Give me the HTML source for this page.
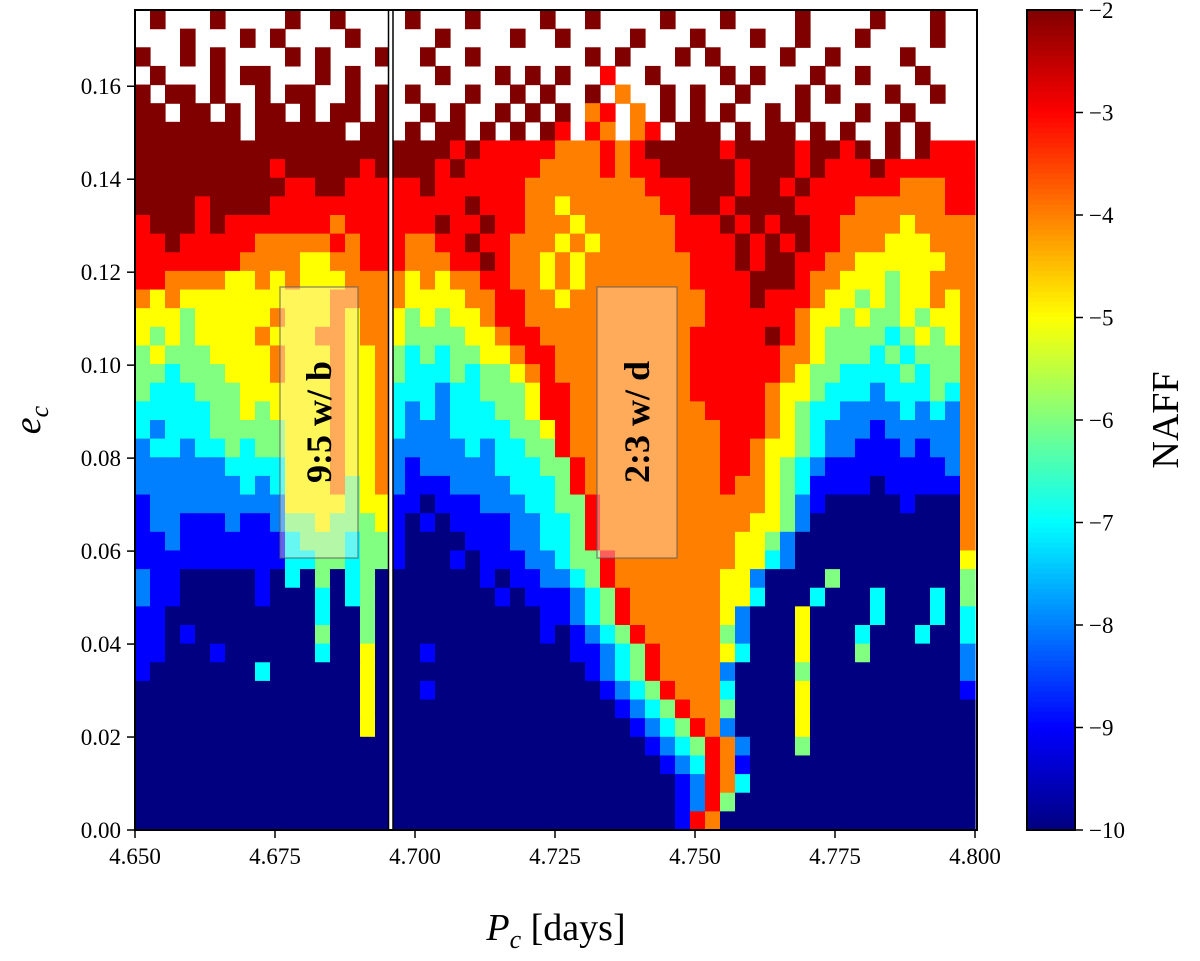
<!DOCTYPE html>
<html><head><meta charset="utf-8"><style>
html,body{margin:0;padding:0;background:#fff;}
svg text{font-family:"Liberation Serif",serif;fill:#000;}
</style></head><body>
<svg id="chart" width="1200" height="956" viewBox="0 0 1200 956">
<g id="cells"></g>
<g id="overlay"></g>
</svg>
<script>
const xTicks = [4.650, 4.675, 4.700, 4.725, 4.750, 4.775, 4.800];
const xTickLabels = ["4.650","4.675","4.700","4.725","4.750","4.775","4.800"];
const yTicks = [0,0.02,0.04,0.06,0.08,0.10,0.12,0.14,0.16];
const yTickLabels = ["0.00","0.02","0.04","0.06","0.08","0.10","0.12","0.14","0.16"];
const cbTicks = [-2,-3,-4,-5,-6,-7,-8,-9,-10];
const cbTickLabels = ["\u22122","\u22123","\u22124","\u22125","\u22126","\u22127","\u22128","\u22129","\u221210"];
const xMin = 4.650, xMax = 4.800, eMin = 0, eMax = 0.1764;
const nCols = 56;
// grid values: digit d => NAFF = -10 + d, '.' = no data ; rows from top (high e) to bottom
// left panel (17 cols) | gap col | right panel (38 cols, grouped by 10)
const gridRows = [
".8...8....8..8...|.|8...8....8 ..8....8.. .8....8... .8...8..",
"...8...8.8....8..|.|..8....8.. 8....8...8 ...8..8... 8....8..",
"8..8.8....8.8...8|.|.8..8..... ..8.8...8. 8....8..8. ...8....",
".8...8.88...8.8..|.|..8...8.8. 8..7..8... .8.8...8.. 8...8...",
"8.88.8..8.88..8.8|.|8...8..8.8 ..8.6..8.8 ..8...8.8. ..8..8..",
"88.88.8.88.8.88.8|.|.8.8..8.8. 8.67.6.8.8 .8..8.8... 8..8....",
"8888888.888888.88|.|8.88.8.8.8 7.76.67.88 8.8.88.8.8 ..8.8...",
"88888888888888888|8|8887877777 6667678888 8788887887 8.8.8777",
"88888888878888878|8|8878777776 6667677888 8878887877 78777777",
"88888888887788777|7|7877777766 6666667778 8878878777 77766677",
"88887888877777777|7|7777877766 5666666778 8788887777 66666677",
"78887877777776777|7|7787787766 6566666677 7878788776 66656666",
"77877777666667677|7|6677877666 5656666677 7787878776 66555666",
"77777776666556677|7|6667787665 6566666667 7787887766 55555566",
"77666655656555666|6|5656677665 6566666667 7778887665 55455666",
"65655555555556666|6|5555667766 5666666666 7778777655 45455656",
"55545555565556566|5|4545567766 6666666666 7777776554 54454556",
"54545555655566566|5|4444556776 6666666667 7777876544 44345456",
"45444555565556556|4|3434455677 6666666667 7777766544 43434446",
"44344455565556556|4|3334344567 6666666667 7777765443 33343446",
"43334445555556556|3|3323344457 7666666667 7777655433 32333436",
"33333445455556556|3|2323334457 7666666666 7777654332 22232326",
"32333444445556556|3|2223333445 7666666666 6777654322 21222226",
"23323343445556556|2|2222323344 7666666666 6776554322 11121226",
"22222233335556556|2|1222223334 4766666666 6776543211 11111126",
"22222223235556456|2|1112222333 4766666666 6766543111 10111116",
"12222222225555455|1|1011122233 4476666666 6666542100 00010006",
"12211121124454445|1|0101111223 3476666666 6665542000 00000006",
"11211111113444344|1|0000111223 3476666666 6655420000 00000006",
"11111111113344344|1|0001011122 3447666666 6655320000 00000005",
"21100000103040340|0|0000010112 2347666666 6552000040 00000004",
"21100000100030340|0|0000001011 1234766666 6553000300 03000304",
"11000000000030040|0|0000000001 1234766666 6520005000 03000303",
"11010000000040040|0|0000000001 0123476666 6420005000 30003003",
"11000100000030050|0|0100000000 0112347666 6530005000 40000002",
"10000000300000050|0|0000000000 0012347666 6200004000 00000002",
"00000000000000050|0|0100000000 0001234766 6300005000 00000001",
"00000000000000050|0|0000000000 0000123476 6400005000 00000000",
"00000000000000050|0|0000000000 0000012347 6200005000 00000000",
"00000000000000000|0|0000000000 0000001234 7620004000 00000000",
"00000000000000000|0|0000000000 0000000123 7610000000 00000000",
"00000000000000000|0|0000000000 0000000012 7630000000 00000000",
"00000000000000000|0|0000000000 0000000012 7400000000 00000000",
"00000000000000000|0|0000000000 0000000017 6000000000 00000000"
];
const L=135,R=977,T=10,B=830;
const xs = v => L + (v - xMin) / (xMax - xMin) * (975 - L);
const ys = e => B - (e - eMin) / (eMax - eMin) * (B - T);
function jet(t){const c=x=>Math.max(0,Math.min(1,x));
 const r=c(1.5-Math.abs(4*t-3)),g=c(1.5-Math.abs(4*t-2)),b=c(1.5-Math.abs(4*t-1));
 return `rgb(${Math.round(r*255)},${Math.round(g*255)},${Math.round(b*255)})`;}
const NS="http://www.w3.org/2000/svg";
function mk(tag,attrs,parent){const el=document.createElementNS(NS,tag);for(const k in attrs)el.setAttribute(k,attrs[k]);parent.appendChild(el);return el;}
const cells=document.getElementById('cells');
const ov=document.getElementById('overlay');
const nRows=gridRows.length;
const dx=(xMax-xMin)/nCols, de=(eMax-eMin)/nRows;
gridRows.forEach((row,r)=>{
 const s=row.replace(/[\| ]/g,'').padEnd(nCols,'0').slice(0,nCols);
 for(let c=0;c<nCols;c++){
  const ch=s[c]; if(ch==='.')continue;
  const v=-10+parseInt(ch,10);
  const x0=xs(xMin+c*dx), x1=xs(xMin+(c+1)*dx);
  const e1=eMax-r*de, e0=eMax-(r+1)*de;
  const el=mk('rect',{x:x0.toFixed(2),y:ys(e1).toFixed(2),width:(x1-x0+0.6).toFixed(2),height:(ys(e0)-ys(e1)+0.6).toFixed(2),fill:jet((v+10)/8)},cells);
  
  
 }
});
let sep=mk('rect',{x:388,y:T,width:5,height:B-T,fill:'#fff'},ov);


mk('line',{x1:388.5,y1:T,x2:388.5,y2:B,stroke:'#000','stroke-width':1.5},ov);
mk('line',{x1:393,y1:T,x2:393,y2:B,stroke:'#000','stroke-width':1.5},ov);
function annot(x,w,label,name){
 const g=mk('g',{},ov);
 
 
 mk('rect',{x:x,y:287,width:w,height:271,fill:'rgba(255,235,225,0.4)',stroke:'rgba(90,90,90,0.6)','stroke-width':1.5},g);
 const t=mk('text',{x:0,y:0,'font-size':36,'font-weight':'bold','text-anchor':'middle',transform:`translate(${x+w/2+12},422) rotate(-90)`},g);
 t.textContent=label;
}
annot(280,78,'9:5 w/ b','annotation-9-5-resonance');
annot(597,80,'2:3 w/ d','annotation-2-3-resonance');
let fr=mk('rect',{x:L,y:T,width:R-L,height:B-T,fill:'none',stroke:'#000','stroke-width':2},ov);


xTicks.forEach((v,i)=>{
 const x=xs(v);
 mk('line',{x1:x,y1:B,x2:x,y2:B+8,stroke:'#000','stroke-width':1.5},ov);
 const t=mk('text',{x:x,y:B+34,'font-size':23,'text-anchor':'middle'},ov);
 t.textContent=xTickLabels[i];
 
 
});
yTicks.forEach((v,i)=>{
 const y=ys(v);
 mk('line',{x1:L-8,y1:y,x2:L,y2:y,stroke:'#000','stroke-width':1.5},ov);
 const t=mk('text',{x:L-14,y:y+8,'font-size':23,'text-anchor':'end'},ov);
 t.textContent=yTickLabels[i];
 
 
});
let xt=mk('text',{x:556,y:940,'font-size':38,'text-anchor':'middle'},ov);
xt.innerHTML='<tspan font-style="italic">P</tspan><tspan font-style="italic" font-size="26" dy="8">c</tspan><tspan dy="-8"> [days]</tspan>';


let yt=mk('text',{x:0,y:0,'font-size':38,'text-anchor':'middle',transform:'translate(40,420) rotate(-90)'},ov);
yt.innerHTML='<tspan font-style="italic">e</tspan><tspan font-style="italic" font-size="26" dy="8">c</tspan>';


const CL=1027,CR=1075;
const cbs=v=>T+(-2-v)/8*(B-T);
const cbg=mk('g',{},ov);


for(let i=0;i<160;i++){
 const y0=T+i*(B-T)/160;
 mk('rect',{x:CL,y:y0,width:CR-CL,height:(B-T)/160+0.6,fill:jet(1-(i+0.5)/160)},cbg);
}
mk('rect',{x:CL,y:T,width:CR-CL,height:B-T,fill:'none',stroke:'#000','stroke-width':2},cbg);
cbTicks.forEach((v,i)=>{
 const y=cbs(v);
 mk('line',{x1:CR,y1:y,x2:CR+8,y2:y,stroke:'#000','stroke-width':1.5},cbg);
 const t=mk('text',{x:CR+14,y:y+8,'font-size':23},cbg);
 t.textContent=cbTickLabels[i];
 
 
});
let ct=mk('text',{x:0,y:0,'font-size':38,'text-anchor':'middle',transform:'translate(1178,420) rotate(-90)'},ov);
ct.textContent='NAFF';


</script>
</body></html>
